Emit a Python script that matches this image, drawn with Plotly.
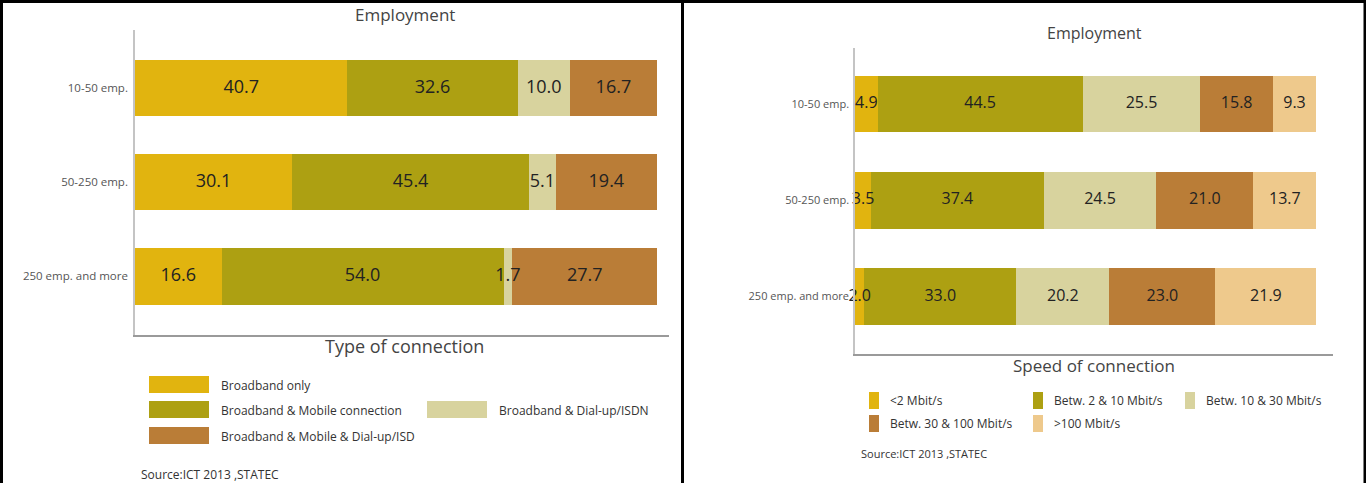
import plotly.graph_objects as go

# ---------------- data ----------------
categories = ["10-50 emp.", "50-250 emp.", "250 emp. and more"]

type_names = ["Broadband only", "Broadband & Mobile connection",
              "Broadband & Dial-up/ISDN", "Broadband & Mobile & Dial-up/ISD"]
bb_only = [40.7, 30.1, 16.6]
bb_mobile = [32.6, 45.4, 54.0]
bb_dialup = [10.0, 5.1, 1.7]
bb_mobile_dialup = [16.7, 19.4, 27.7]

speed_names = ["<2 Mbit/s", "Betw. 2 & 10 Mbit/s", "Betw. 10 & 30 Mbit/s",
               "Betw. 30 & 100 Mbit/s", ">100 Mbit/s"]
speed_lt2 = [4.9, 3.5, 2.0]
speed_2_10 = [44.5, 37.4, 33.0]
speed_10_30 = [25.5, 24.5, 20.2]
speed_30_100 = [15.8, 21.0, 23.0]
speed_gt100 = [9.3, 13.7, 21.9]

colors = ["#E1B40F", "#ADA012", "#D8D39E", "#BA7D37", "#EEC98C"]

W, H = 1366, 483
FONT = "Open Sans"


def px(x):
    return x / W


def py(y):
    return 1 - y / H


fig = go.Figure()


def add_stack(series, names, xa, ya, width, size):
    base = [0.0] * len(categories)
    for name, vals, col in zip(names, series, colors):
        fig.add_trace(go.Bar(
            y=categories, x=vals, name=name, orientation="h",
            marker=dict(color=col, line=dict(width=0)), width=width,
            xaxis=xa, yaxis=ya, showlegend=False, hoverinfo="x+name"))
        mids = [b + v / 2 for b, v in zip(base, vals)]
        fig.add_trace(go.Scatter(
            y=categories, x=mids, mode="text",
            text=[f"{v:.1f}" for v in vals], textposition="middle center",
            textfont=dict(family=FONT, size=size, color="#222"),
            xaxis=xa, yaxis=ya, showlegend=False, hoverinfo="skip",
            cliponaxis=False))
        base = [b + v for b, v in zip(base, vals)]


add_stack([bb_only, bb_mobile, bb_dialup, bb_mobile_dialup], type_names,
          "x", "y", 0.6, 18)
add_stack([speed_lt2, speed_2_10, speed_10_30, speed_30_100, speed_gt100],
          speed_names, "x2", "y2", 0.59, 16)

common_x = dict(showgrid=False, zeroline=False, showticklabels=False,
                ticks="", showline=True, linecolor="#9a9a9a", linewidth=2,
                fixedrange=True)
common_y = dict(showgrid=False, zeroline=False, ticks="", showline=True,
                linecolor="#c4c4c4", linewidth=1.5, type="category",
                categoryorder="array", categoryarray=categories,
                tickfont=dict(family=FONT, size=11.5, color="#555"),
                ticklabelstandoff=3, fixedrange=True)

fig.update_layout(
    width=W, height=H,
    margin=dict(l=0, r=0, t=0, b=0),
    paper_bgcolor="white", plot_bgcolor="white",
    barmode="stack",
    showlegend=False,
    xaxis=dict(domain=[px(135), px(669)], range=[0, 102.3], anchor="y", **common_x),
    yaxis=dict(domain=[py(335), py(30)], range=[2.624, -0.618], anchor="x", **common_y),
    xaxis2=dict(domain=[px(855), px(1333)], range=[0, 103.7], anchor="y2", **common_x),
    yaxis2=dict(domain=[py(354), py(48)], range=[2.597, -0.582], anchor="x2", **common_y),
)
fig.update_layout(yaxis2=dict(ticklabelstandoff=2, tickfont=dict(size=11)))

annotations = []
shapes = []


def text(x, y, s, size, color="#333", xanchor="center"):
    annotations.append(dict(x=px(x), y=py(y), xref="paper", yref="paper",
                            text=s, showarrow=False, xanchor=xanchor,
                            yanchor="middle",
                            font=dict(family=FONT, size=size, color=color)))


def box(x0, y0, x1, y1, color):
    shapes.append(dict(type="rect", xref="paper", yref="paper",
                       x0=px(x0), x1=px(x1), y0=py(y1), y1=py(y0),
                       fillcolor=color, line=dict(width=0)))


# titles
text(405, 15, "Employment", 17, "#444")
text(404, 346, "Type of connection", 18, "#444")
text(1094, 33, "Employment", 16, "#444")
text(1094, 365, "Speed of connection", 17, "#444")

# left legend
left_legend = [(149, 376, 0), (149, 401, 1), (427, 401, 2), (149, 427, 3)]
for x0, y0, i in left_legend:
    box(x0, y0, x0 + 60, y0 + 17, colors[i])
    text(x0 + 70, y0 + 9, type_names[i], 12, "#333", "left")

# right legend
right_legend = [(869, 392, 0), (1033, 392, 1), (1185, 392, 2),
                (869, 415, 3), (1033, 415, 4)]
for x0, y0, i in right_legend:
    box(x0, y0, x0 + 10, y0 + 17, colors[i])
    text(x0 + 19, y0 + 8.5, speed_names[i], 12, "#333", "left")

# sources
text(139, 474, "Source:ICT 2013 ,STATEC", 12, "#333", "left")
text(859, 453, "Source:ICT 2013 ,STATEC", 11, "#333", "left")

# panel borders
for (x0, y0, x1, y1) in [(0, 1.5, W, 1.5), (1.5, 0, 1.5, H),
                         (682.5, 0, 682.5, H), (1365, 0, 1365, H)]:
    shapes.append(dict(type="line", xref="paper", yref="paper",
                       x0=px(x0), x1=px(x1), y0=py(y0), y1=py(y1),
                       line=dict(color="black", width=3)))

fig.update_layout(annotations=annotations, shapes=shapes)
fig.write_html("out.html")
